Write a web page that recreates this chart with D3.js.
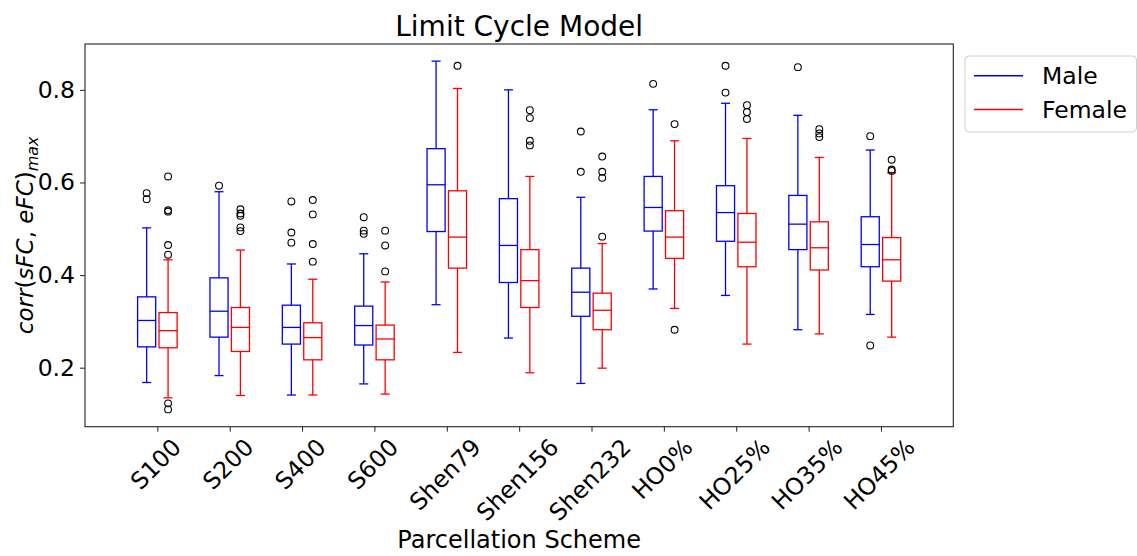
<!DOCTYPE html>
<html>
<head>
<meta charset="utf-8">
<script src="https://cdn.jsdelivr.net/npm/d3@7"></script>
<style>
  html, body { margin: 0; padding: 0; background: #fff; }
  svg { display: block; font-family: "DejaVu Sans", sans-serif; }
</style>
</head>
<body>
<svg id="chart" width="1137" height="556"></svg>
<script>
const categories = ["S100","S200","S400","S600","Shen79","Shen156","Shen232","HO0%","HO25%","HO35%","HO45%"];
const yTicks = [0.2, 0.4, 0.6, 0.8];

const maleLow    = [0.168,0.183,0.141,0.165,0.336,0.264,0.166,0.370,0.356,0.282,0.315];
const maleQ1     = [0.245,0.266,0.251,0.249,0.494,0.384,0.311,0.495,0.473,0.455,0.418];
const maleMedian = [0.302,0.322,0.287,0.291,0.595,0.464,0.363,0.546,0.535,0.510,0.466];
const maleQ3     = [0.353,0.394,0.335,0.333,0.673,0.565,0.415,0.613,0.593,0.572,0.526];
const maleHigh   = [0.502,0.580,0.424,0.446,0.862,0.800,0.568,0.757,0.771,0.745,0.670];
const maleOutliers = [[0.577,0.564],[0.593],[0.559,0.492,0.470],[0.525,0.496,0.489],[],[],[0.710,0.623],[0.813],[0.852,0.794],[0.849],[0.700,0.248]];

const femaleLow    = [0.135,0.140,0.141,0.143,0.233,0.189,0.199,0.328,0.251,0.273,0.266];
const femaleQ1     = [0.243,0.235,0.217,0.217,0.415,0.330,0.282,0.436,0.418,0.411,0.387];
const femaleMedian = [0.280,0.287,0.265,0.262,0.482,0.388,0.324,0.482,0.471,0.459,0.433];
const femaleQ3     = [0.319,0.330,0.297,0.292,0.582,0.455,0.361,0.539,0.533,0.515,0.481];
const femaleHigh   = [0.433,0.454,0.391,0.385,0.803,0.613,0.468,0.690,0.695,0.654,0.621];
const femaleOutliers = [[0.613,0.540,0.537,0.465,0.444,0.123,0.110],[0.542,0.533,0.528,0.503,0.495],[0.562,0.531,0.467,0.429],[0.496,0.464,0.408],[0.852],[0.756,0.739,0.690,0.680],[0.656,0.623,0.610,0.483],[0.726,0.282],[0.767,0.752,0.737],[0.715,0.706,0.698],[0.649,0.628,0.625]];

const groups = [
  {name: "Male", color: "#0000ff", offset: -0.148, low: maleLow, q1: maleQ1, med: maleMedian, q3: maleQ3, high: maleHigh, out: maleOutliers},
  {name: "Female", color: "#ff0000", offset: 0.148, low: femaleLow, q1: femaleQ1, med: femaleMedian, q3: femaleQ3, high: femaleHigh, out: femaleOutliers}
];

const svg = d3.select("#chart");
const L = 85, R = 953.3, T = 44, B = 426.7;
const x = d3.scaleLinear().domain([0, categories.length + 1]).range([L, R]);
const y = d3.scaleLinear().domain([0.0726, 0.899]).range([B, T]);
const boxW = 0.25, capW = 0.125;
const tickFont = 23.5;

const g = svg.append("g");

groups.forEach(gr => {
  categories.forEach((c, i) => {
    const cx = i + 1 + gr.offset;
    const gg = g.append("g").attr("stroke", gr.color).attr("stroke-width", 1.3).attr("fill", "none");
    gg.append("line").attr("x1", x(cx)).attr("x2", x(cx)).attr("y1", y(gr.q1[i])).attr("y2", y(gr.low[i]));
    gg.append("line").attr("x1", x(cx)).attr("x2", x(cx)).attr("y1", y(gr.q3[i])).attr("y2", y(gr.high[i]));
    gg.append("line").attr("x1", x(cx - capW/2)).attr("x2", x(cx + capW/2)).attr("y1", y(gr.low[i])).attr("y2", y(gr.low[i]));
    gg.append("line").attr("x1", x(cx - capW/2)).attr("x2", x(cx + capW/2)).attr("y1", y(gr.high[i])).attr("y2", y(gr.high[i]));
    gg.append("rect").attr("x", x(cx - boxW/2)).attr("width", x(cx + boxW/2) - x(cx - boxW/2))
      .attr("y", y(gr.q3[i])).attr("height", y(gr.q1[i]) - y(gr.q3[i]));
    gg.append("line").attr("x1", x(cx - boxW/2)).attr("x2", x(cx + boxW/2)).attr("y1", y(gr.med[i])).attr("y2", y(gr.med[i]));
    g.selectAll(null).data(gr.out[i]).enter().append("circle")
      .attr("cx", x(cx)).attr("cy", d => y(d)).attr("r", 3.4)
      .attr("fill", "none").attr("stroke", "#000").attr("stroke-width", 1.1);
  });
});

// frame
svg.append("rect").attr("x", L).attr("y", T).attr("width", R - L).attr("height", B - T)
  .attr("fill", "none").attr("stroke", "#222").attr("stroke-width", 1.1);

// y axis
const yAxis = svg.append("g").attr("transform", `translate(${L},0)`)
  .call(d3.axisLeft(y).tickValues(yTicks).tickFormat(d3.format(".1f")).tickSize(5).tickPadding(5));
yAxis.select(".domain").remove();
yAxis.selectAll("text").attr("font-size", tickFont).attr("fill", "#000").attr("font-family", "DejaVu Sans");
yAxis.selectAll("line").attr("stroke", "#222");

// x axis
const xAxis = svg.append("g").attr("transform", `translate(0,${B})`)
  .call(d3.axisBottom(x).tickValues(d3.range(1, categories.length + 1)).tickFormat(d => categories[d - 1]).tickSize(5));
xAxis.select(".domain").remove();
xAxis.selectAll("line").attr("stroke", "#222");
xAxis.selectAll("text").each(function(d) {
  const t = d3.select(this);
  t.attr("font-size", tickFont).attr("font-family", "DejaVu Sans").attr("fill", "#000")
   .attr("text-anchor", "middle").attr("dy", null).attr("y", 0).attr("dominant-baseline", "central");
  const w = this.getComputedTextLength();
  const hb = (w + 0.73 * tickFont) / Math.SQRT2;
  t.attr("transform", `translate(-2,${(437 - B) + hb / 2}) rotate(-45)`);
});

// title
svg.append("text").attr("x", (L + R) / 2).attr("y", 35.5).attr("text-anchor", "middle")
  .attr("font-size", 28).attr("fill", "#000").text("Limit Cycle Model");

// x label
svg.append("text").attr("x", (L + R) / 2).attr("y", 548.3).attr("text-anchor", "middle")
  .attr("font-size", 24).attr("fill", "#000").text("Parcellation Scheme");

// y label
const yl = svg.append("text").attr("transform", `translate(33,${(T + B) / 2}) rotate(-90)`)
  .attr("text-anchor", "middle").attr("font-size", 23).attr("fill", "#000");
yl.append("tspan").attr("font-style", "italic").text("corr");
yl.append("tspan").text("(");
yl.append("tspan").attr("font-style", "italic").text("sFC");
yl.append("tspan").text(", ");
yl.append("tspan").attr("font-style", "italic").text("eFC");
yl.append("tspan").text(")");
yl.append("tspan").attr("font-style", "italic").attr("font-size", 16).attr("dy", 5).text("max");

// legend
const lg = svg.append("g");
lg.append("rect").attr("x", 965).attr("y", 56).attr("width", 171.5).attr("height", 76).attr("rx", 4)
  .attr("fill", "#fff").attr("fill-opacity", 0.8).attr("stroke", "#d0d0d0").attr("stroke-width", 1);
groups.forEach((gr, k) => {
  const ly = 75.7 + k * 33.8;
  lg.append("line").attr("x1", 974).attr("x2", 1023).attr("y1", ly).attr("y2", ly)
    .attr("stroke", gr.color).attr("stroke-width", 1.5);
  lg.append("text").attr("x", 1042).attr("y", ly + 8.5).attr("font-size", 23.5).attr("fill", "#000").text(gr.name);
});
</script>
</body>
</html>
